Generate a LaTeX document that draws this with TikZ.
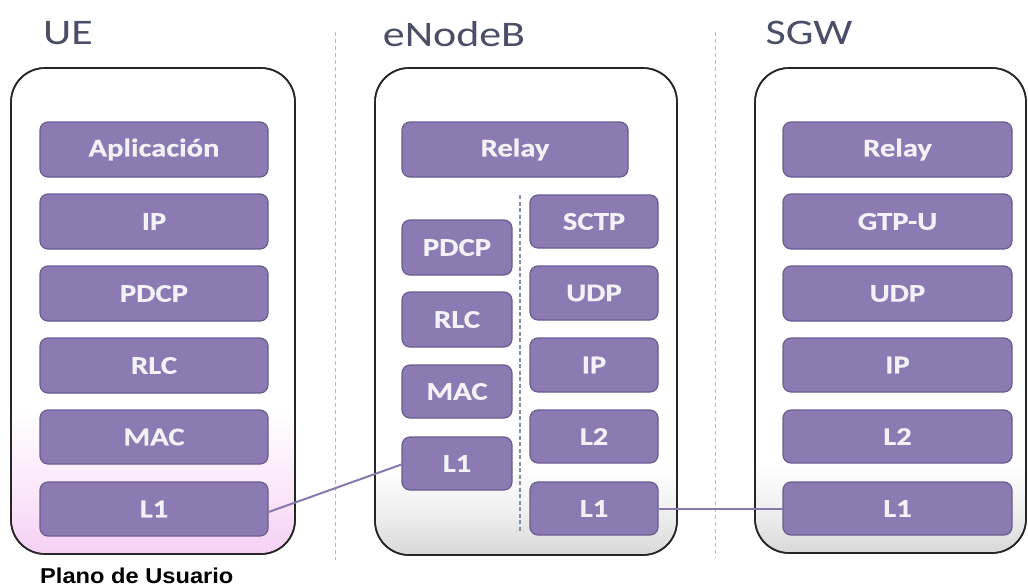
\documentclass[tikz,border=0pt]{standalone}
\usepackage{fontspec}
\setmainfont{Carlito}
\newfontfamily\boxfont[FakeStretch=1.2,BoldFont={Carlito Bold},BoldFeatures={FakeBold=0.5}]{Carlito}
\newfontfamily\titlefont[FakeStretch=1.22]{Carlito}
\newfontfamily\capfont[FakeStretch=1.1]{Liberation Sans}
\definecolor{boxfill}{HTML}{8B7BB2}
\definecolor{boxline}{HTML}{6A5C90}
\definecolor{boxtext}{HTML}{F4F2F8}
\definecolor{conn}{HTML}{8878AE}
\definecolor{titlec}{HTML}{4A4E66}
\definecolor{uepink}{HTML}{F6D0F4}
\definecolor{enbgray}{HTML}{D8D8D8}
\definecolor{divider}{HTML}{B8B8B8}
\definecolor{innerdash}{HTML}{7E90A8}
\pgfdeclareverticalshading{uebg}{100bp}{color(0bp)=(uepink); color(25bp)=(uepink); color(31bp)=(uepink!55!white); color(40bp)=(white); color(100bp)=(white)}
\pgfdeclareverticalshading{graybg}{100bp}{color(0bp)=(enbgray); color(25bp)=(enbgray); color(29bp)=(enbgray!45!white); color(34bp)=(white); color(100bp)=(white)}
\tikzset{
  layer/.style={draw=boxline, line width=1.2pt, fill=boxfill, rounded corners=8pt,
    text=boxtext, font=\boxfont\bfseries\fontsize{25.5}{28}\selectfont, inner sep=0pt},
  container/.style={draw=black!85, line width=1.6pt, rounded corners=34pt},
  title/.style={text=titlec, font=\titlefont\fontsize{36}{40}\selectfont, inner sep=0pt},
  divline/.style={draw=divider, line width=1pt, dash pattern=on 4pt off 3pt},
  connector/.style={draw=conn, line width=2pt},
}
% box macro: name, x1, y1, x2, y2, text
\newcommand{\layerbox}[6]{%
  \node[layer, minimum width={#4-#2}, minimum height={#5-#3}] (#1) at ({(#2+#4)/2},{(#3+#5)/2}) {#6};}
\begin{document}
\begin{tikzpicture}[x=1pt,y=-1pt]
\useasboundingbox (0,0) rectangle (1028,587);
% dividers
\coordinate (d1t) at (335,32); \coordinate (d1b) at (335,560);
\coordinate (d2t) at (715,32); \coordinate (d2b) at (715,558);
\draw[divline] (d1t) -- (d1b);
\draw[divline] (d2t) -- (d2b);
% containers
\path[container, shading=uebg] (11,68) rectangle (295,554);
\draw[container] (11,68) rectangle (295,554);
\path[container, shading=graybg] (375,68) rectangle (677,555);
\draw[container] (375,68) rectangle (677,555);
\path[container, shading=graybg] (755,68) rectangle (1026,553);
\draw[container] (755,68) rectangle (1026,553);
% titles
\node[title] (tue) at (68,33) {UE};
\node[title] (tenb) at (454,34) {eNodeB};
\node[title] (tsgw) at (809,33) {SGW};
% UE stack
\layerbox{ueapp}{40}{122}{268}{177}{Aplicación}
\layerbox{ueip}{40}{194}{268}{249}{IP}
\layerbox{uepdcp}{40}{266}{268}{321}{PDCP}
\layerbox{uerlc}{40}{338}{268}{393}{RLC}
\layerbox{uemac}{40}{410}{268}{464}{MAC}
\layerbox{uel1}{40}{482}{268}{536}{L1}
% eNodeB stack
\layerbox{enbrelay}{402}{122}{628}{177}{Relay}
\layerbox{enbpdcp}{402}{220}{512}{275}{PDCP}
\layerbox{enbrlc}{402}{292}{512}{347}{RLC}
\layerbox{enbmac}{402}{365}{512}{418}{MAC}
\layerbox{enbla}{402}{437}{512}{490}{L1}
\layerbox{enbsctp}{530}{195}{658}{248}{SCTP}
\layerbox{enbudp}{530}{266}{658}{320}{UDP}
\layerbox{enbip}{530}{338}{658}{392}{IP}
\layerbox{enbl2}{530}{410}{658}{463}{L2}
\layerbox{enblb}{530}{482}{658}{535}{L1}
\coordinate (idt) at (520,195); \coordinate (idb) at (520,532);
\draw[innerdash, line width=1.2pt, dash pattern=on 4pt off 2.5pt] (idt) -- (idb);
% SGW stack
\layerbox{sgwrelay}{783}{122}{1012}{177}{Relay}
\layerbox{sgwgtp}{783}{194}{1012}{249}{GTP-U}
\layerbox{sgwudp}{783}{266}{1012}{321}{UDP}
\layerbox{sgwip}{783}{338}{1012}{392}{IP}
\layerbox{sgwl2}{783}{410}{1012}{463}{L2}
\layerbox{sgwl1}{783}{482}{1012}{535}{L1}
% connectors
\draw[connector] ([yshift=-3pt]uel1.east) -- ([yshift=-1pt]enbla.west);
\draw[connector] (enblb.east) -- (sgwl1.west);
% caption
\node[anchor=base west, inner sep=0pt, font=\capfont\bfseries\fontsize{21.5}{24}\selectfont] (cap) at (40,583) {Plano de Usuario};
\end{tikzpicture}
\end{document}
